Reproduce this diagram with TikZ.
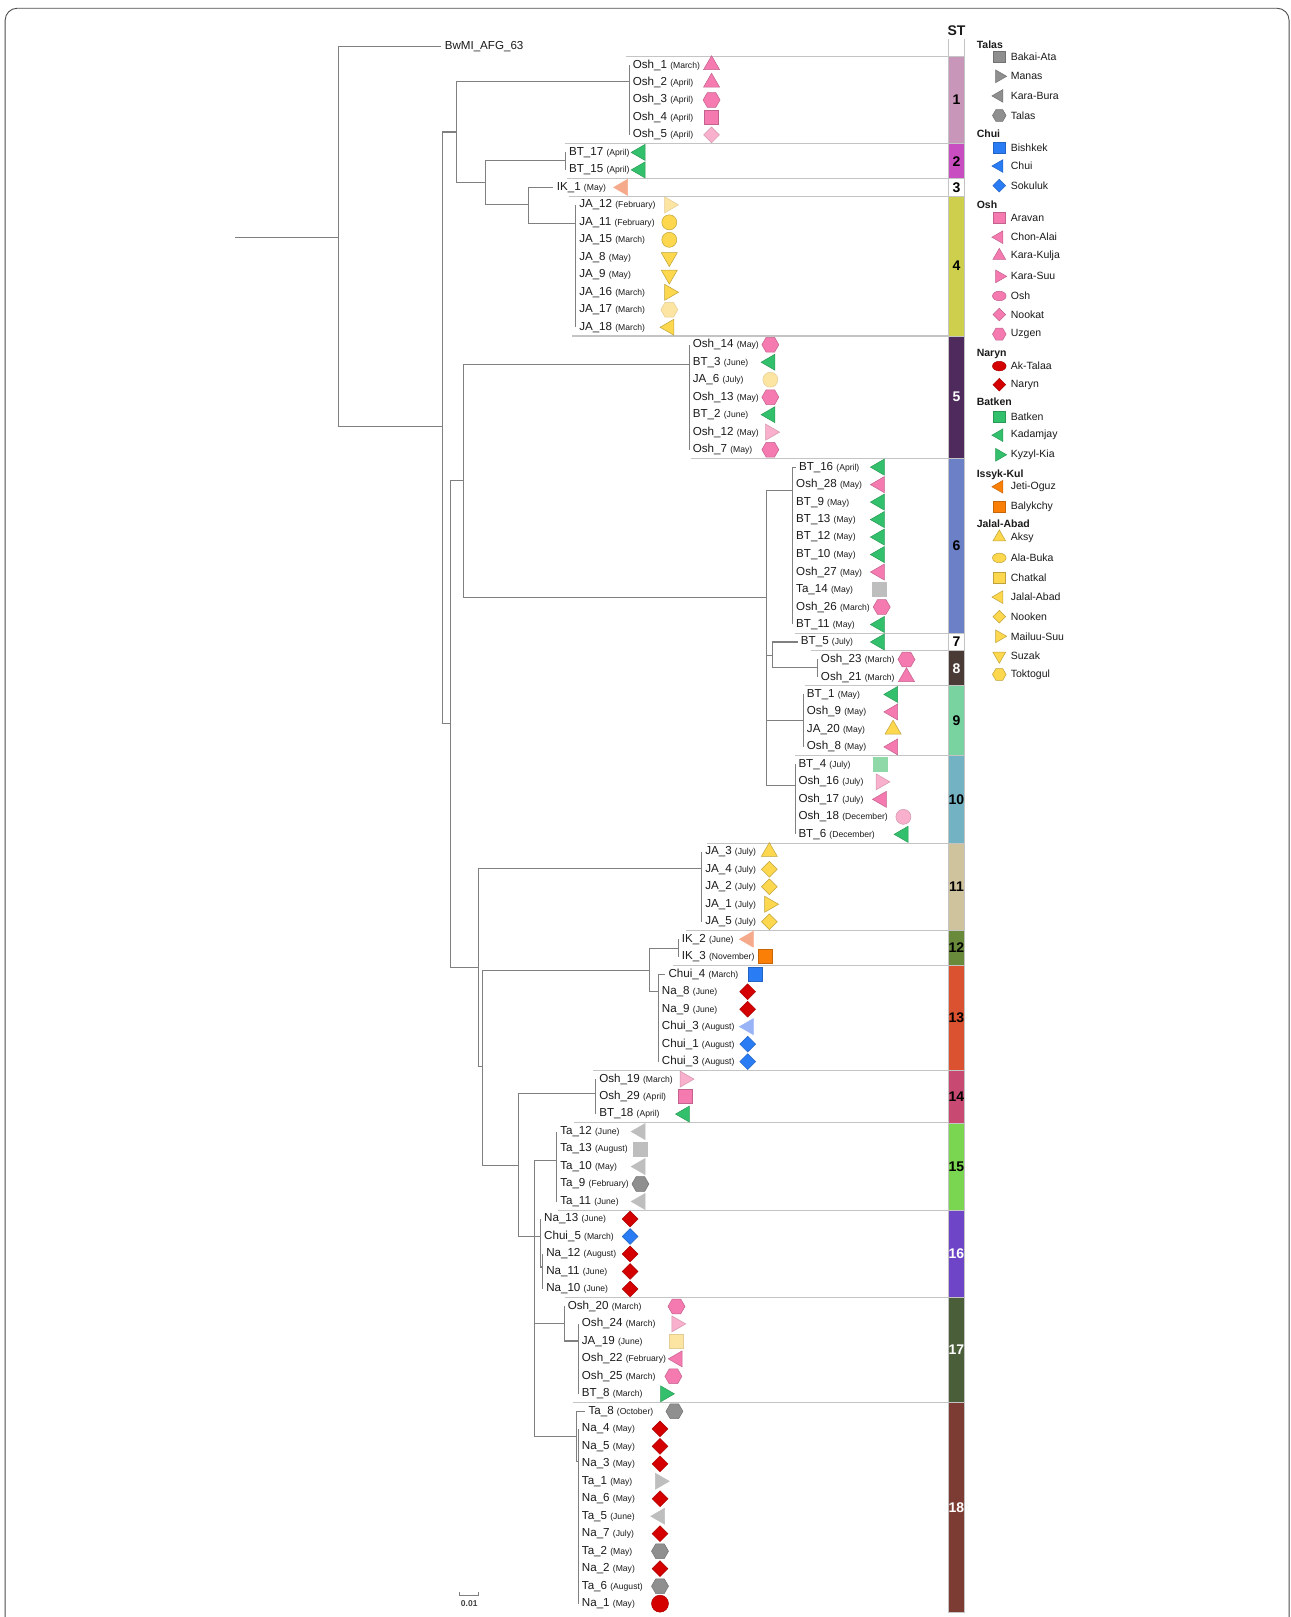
\documentclass[tikz,border=0pt]{standalone}
\usepackage{fontspec}
\setmainfont{Liberation Sans}
\usetikzlibrary{shapes.geometric}

\definecolor{brc}{HTML}{808080}
\definecolor{sepc}{HTML}{C4C4C4}
\definecolor{txtc}{HTML}{1A1A1A}
\definecolor{oshpk}{HTML}{F47AB0}
\definecolor{oshlpk}{HTML}{F8B0CC}
\definecolor{btgr}{HTML}{33C06C}
\definecolor{btlgr}{HTML}{8FD9A8}
\definecolor{tagy}{HTML}{8F8F8F}
\definecolor{talgy}{HTML}{BEBEBE}
\definecolor{chbl}{HTML}{2A7CF4}
\definecolor{chlbl}{HTML}{98B3F6}
\definecolor{nard}{HTML}{D40000}
\definecolor{ikor}{HTML}{F97F07}
\definecolor{iksal}{HTML}{F6AA8C}
\definecolor{jaye}{HTML}{FDD84E}
\definecolor{jalye}{HTML}{FCE4A2}
% sequence type bar
\definecolor{stA}{HTML}{C896B8}
\definecolor{stB}{HTML}{C74DC0}
\definecolor{stD}{HTML}{CFCF4E}
\definecolor{stE}{HTML}{4F2A5D}
\definecolor{stF}{HTML}{6C80C7}
\definecolor{stH}{HTML}{4B3B37}
\definecolor{stI}{HTML}{79D3A0}
\definecolor{stJ}{HTML}{72B2C2}
\definecolor{stK}{HTML}{CFC39E}
\definecolor{stL}{HTML}{6A8A3B}
\definecolor{stM}{HTML}{DA5230}
\definecolor{stN}{HTML}{C84A72}
\definecolor{stO}{HTML}{7AD550}
\definecolor{stP}{HTML}{6E45C6}
\definecolor{stQ}{HTML}{4B5E3A}
\definecolor{stR}{HTML}{7D3C33}

\newcommand{\rowy}[1]{46.05+16.955*(#1)}
\newcommand{\mon}[1]{{\fontsize{8.6}{9}\selectfont(#1)}}
% isolate: id, row, tip x, name, month, shape, colour, symbol x
\newcommand{\leaf}[8]{%
  \coordinate (#1) at (#3,{\rowy{#2}});
  \node[lab] (#1l) at (#1) {#4 \mon{#5}};
  \node[#6,#7] (#1s) at (#8,{\rowy{#2}}) {};
}
% ST bar segment: name, first row, last row, fill, text colour, number
\newcommand{\stseg}[6]{%
  \path[fill=#4, draw=sepc, line width=0.6pt] (920,{\rowy{#2-0.5}}) rectangle (935,{\rowy{#3+0.5}});
  \node[stnum, text=#5] (#1) at (927.5,{\rowy{(#2+#3)/2}}) {#6};
}

\begin{document}
\begin{tikzpicture}[
    x=1.031pt, y=-1.031pt,
    br/.style={draw=brc, line width=1.1pt},
    sep/.style={draw=sepc, line width=1.1pt},
    lab/.style={anchor=west, inner sep=3.2pt, text=txtc, font=\fontsize{11.6}{13}\selectfont},
    stnum/.style={inner sep=0pt, font=\bfseries\fontsize{14}{14}\selectfont},
    leghd/.style={anchor=west, inner sep=0pt, text=txtc, font=\bfseries\fontsize{10.5}{11}\selectfont},
    legtx/.style={anchor=west, inner sep=0pt, text=txtc, font=\fontsize{10.5}{11}\selectfont},
    sym/.style={inner sep=0pt, line width=0.5pt},
    symU/.style={sym, regular polygon, regular polygon sides=3, minimum size=18.5pt},
    symL/.style={symU, shape border rotate=90},
    symR/.style={symU, shape border rotate=-90},
    symD/.style={symU, shape border rotate=180},
    symSq/.style={sym, rectangle, minimum size=14pt},
    symHex/.style={sym, regular polygon, regular polygon sides=6, minimum size=17pt},
    symDia/.style={sym, diamond, minimum size=16pt},
    symCirc/.style={sym, circle, minimum size=15pt},
    symEll/.style={sym, ellipse, minimum width=17pt, minimum height=12pt},
    cPk/.style={fill=oshpk, draw=oshpk!80!black},
    cLPk/.style={fill=oshlpk, draw=oshlpk!85!black},
    cGr/.style={fill=btgr, draw=btgr!80!black},
    cLGr/.style={fill=btlgr, draw=btlgr},
    cGy/.style={fill=tagy, draw=tagy!80!black},
    cLGy/.style={fill=talgy, draw=talgy},
    cBl/.style={fill=chbl, draw=chbl!80!black},
    cLBl/.style={fill=chlbl, draw=chlbl},
    cRd/.style={fill=nard, draw=nard!80!black},
    cOr/.style={fill=ikor, draw=ikor!80!black},
    cSal/.style={fill=iksal, draw=iksal},
    cYe/.style={fill=jaye, draw=jaye!75!black},
    cLYe/.style={fill=jalye, draw=jalye!90!black}
  ]
  \useasboundingbox (0,0) rectangle (1251,1568);
  \draw[draw=black!70, line width=0.9pt, rounded corners=12pt] (5,8) rectangle (1250,1610);

  % separators between sequence types
  \foreach \r/\x in {0/607, 5/548, 7/550, 8/552, 16/555, 23/670, 33/771, 34/786, 36/781,
                     40/771, 45/686, 50/665, 52/653, 58/575, 61/557, 66/541, 71/548, 77/556}
    \draw[sep] (\x,{\rowy{\r+0.5}}) -- (920,{\rowy{\r+0.5}});

  % ST column
  \node[stnum, text=txtc] (sthd) at (927.5,30) {ST};
  \draw[sepc, line width=0.8pt] (920,38) -- (920,{\rowy{0.5}}) (935,38) -- (935,{\rowy{0.5}});
  \stseg{bar1}{1}{5}{stA}{black}{1}
  \stseg{bar2}{6}{7}{stB}{black}{2}
  \stseg{bar3}{8}{8}{white}{black}{3}
  \stseg{bar4}{9}{16}{stD}{black}{4}
  \stseg{bar5}{17}{23}{stE}{white}{5}
  \stseg{bar6}{24}{33}{stF}{black}{6}
  \stseg{bar7}{34}{34}{white}{black}{7}
  \stseg{bar8}{35}{36}{stH}{white}{8}
  \stseg{bar9}{37}{40}{stI}{black}{9}
  \stseg{bar10}{41}{45}{stJ}{black}{10}
  \stseg{bar11}{46}{50}{stK}{black}{11}
  \stseg{bar12}{51}{52}{stL}{black}{12}
  \stseg{bar13}{53}{58}{stM}{black}{13}
  \stseg{bar14}{59}{61}{stN}{black}{14}
  \stseg{bar15}{62}{66}{stO}{black}{15}
  \stseg{bar16}{67}{71}{stP}{white}{16}
  \stseg{bar17}{72}{77}{stQ}{white}{17}
  \stseg{bar18}{78}{89}{stR}{white}{18}

  % isolates
  \leaf{osh1}{1}{610.4}{Osh\_1}{March}{symU}{cPk}{690}
  \leaf{osh2}{2}{610.4}{Osh\_2}{April}{symU}{cPk}{690}
  \leaf{osh3}{3}{610.4}{Osh\_3}{April}{symHex}{cPk}{690}
  \leaf{osh4}{4}{610.4}{Osh\_4}{April}{symSq}{cPk}{690}
  \leaf{osh5}{5}{610.4}{Osh\_5}{April}{symDia}{cLPk}{690}
  \leaf{bt17}{6}{548.6}{BT\_17}{April}{symL}{cGr}{621}
  \leaf{bt15}{7}{548.6}{BT\_15}{April}{symL}{cGr}{621}
  \leaf{ik1}{8}{536.7}{IK\_1}{May}{symL}{cSal}{604}
  \leaf{ja12}{9}{558.4}{JA\_12}{February}{symR}{cLYe}{649}
  \leaf{ja11}{10}{558.4}{JA\_11}{February}{symCirc}{cYe}{649}
  \leaf{ja15}{11}{558.4}{JA\_15}{March}{symCirc}{cYe}{649}
  \leaf{ja8}{12}{558.4}{JA\_8}{May}{symD}{cYe}{649}
  \leaf{ja9}{13}{558.4}{JA\_9}{May}{symD}{cYe}{649}
  \leaf{ja16}{14}{558.4}{JA\_16}{March}{symR}{cYe}{649}
  \leaf{ja17}{15}{558.4}{JA\_17}{March}{symHex}{cLYe}{649}
  \leaf{ja18}{16}{558.4}{JA\_18}{March}{symL}{cYe}{649}
  \leaf{osh14}{17}{668.6}{Osh\_14}{May}{symHex}{cPk}{747}
  \leaf{bt3}{18}{668.6}{BT\_3}{June}{symL}{cGr}{747}
  \leaf{ja6}{19}{668.6}{JA\_6}{July}{symCirc}{cLYe}{747}
  \leaf{osh13}{20}{668.6}{Osh\_13}{May}{symHex}{cPk}{747}
  \leaf{bt2}{21}{668.6}{BT\_2}{June}{symL}{cGr}{747}
  \leaf{osh12}{22}{668.6}{Osh\_12}{May}{symR}{cLPk}{747}
  \leaf{osh7}{23}{668.6}{Osh\_7}{May}{symHex}{cPk}{747}
  \leaf{bt16}{24}{771.5}{BT\_16}{April}{symL}{cGr}{853}
  \leaf{osh28}{25}{768.8}{Osh\_28}{May}{symL}{cPk}{853}
  \leaf{bt9}{26}{768.8}{BT\_9}{May}{symL}{cGr}{853}
  \leaf{bt13}{27}{768.8}{BT\_13}{May}{symL}{cGr}{853}
  \leaf{bt12}{28}{768.8}{BT\_12}{May}{symL}{cGr}{853}
  \leaf{bt10}{29}{768.8}{BT\_10}{May}{symL}{cGr}{853}
  \leaf{osh27}{30}{768.8}{Osh\_27}{May}{symL}{cPk}{853}
  \leaf{ta14}{31}{768.8}{Ta\_14}{May}{symSq}{cLGy}{853}
  \leaf{osh26}{32}{768.8}{Osh\_26}{March}{symHex}{cPk}{855}
  \leaf{bt11}{33}{768.8}{BT\_11}{May}{symL}{cGr}{853}
  \leaf{bt5}{34}{773.4}{BT\_5}{July}{symL}{cGr}{853}
  \leaf{osh23}{35}{792.8}{Osh\_23}{March}{symHex}{cPk}{879}
  \leaf{osh21}{36}{792.8}{Osh\_21}{March}{symU}{cPk}{879}
  \leaf{bt1}{37}{779.2}{BT\_1}{May}{symL}{cGr}{866}
  \leaf{osh9}{38}{779.2}{Osh\_9}{May}{symL}{cPk}{866}
  \leaf{ja20}{39}{779.2}{JA\_20}{May}{symU}{cYe}{866}
  \leaf{osh8}{40}{779.2}{Osh\_8}{May}{symL}{cPk}{866}
  \leaf{bt4}{41}{771}{BT\_4}{July}{symSq}{cLGr}{854}
  \leaf{osh16}{42}{771}{Osh\_16}{July}{symR}{cLPk}{854}
  \leaf{osh17}{43}{771}{Osh\_17}{July}{symL}{cPk}{855}
  \leaf{osh18}{44}{771}{Osh\_18}{December}{symCirc}{cLPk}{876}
  \leaf{bt6}{45}{771}{BT\_6}{December}{symL}{cGr}{876}
  \leaf{ja3}{46}{680.6}{JA\_3}{July}{symU}{cYe}{746}
  \leaf{ja4}{47}{680.6}{JA\_4}{July}{symDia}{cYe}{746}
  \leaf{ja2}{48}{680.6}{JA\_2}{July}{symDia}{cYe}{746}
  \leaf{ja1}{49}{680.6}{JA\_1}{July}{symR}{cYe}{746}
  \leaf{ja5}{50}{680.6}{JA\_5}{July}{symDia}{cYe}{746}
  \leaf{ik2}{51}{658}{IK\_2}{June}{symL}{cSal}{726}
  \leaf{ik3}{52}{658}{IK\_3}{November}{symSq}{cOr}{742}
  \leaf{chui4}{53}{645}{Chui\_4}{March}{symSq}{cBl}{732}
  \leaf{na8}{54}{638.6}{Na\_8}{June}{symDia}{cRd}{725}
  \leaf{na9}{55}{638.6}{Na\_9}{June}{symDia}{cRd}{725}
  \leaf{chui3a}{56}{638.6}{Chui\_3}{August}{symL}{cLBl}{726}
  \leaf{chui1}{57}{638.6}{Chui\_1}{August}{symDia}{cBl}{725}
  \leaf{chui3b}{58}{638.6}{Chui\_3}{August}{symDia}{cBl}{725}
  \leaf{osh19}{59}{577.8}{Osh\_19}{March}{symR}{cLPk}{664}
  \leaf{osh29}{60}{577.8}{Osh\_29}{April}{symSq}{cPk}{664}
  \leaf{bt18}{61}{577.8}{BT\_18}{April}{symL}{cGr}{664}
  \leaf{ta12}{62}{540}{Ta\_12}{June}{symL}{cLGy}{621}
  \leaf{ta13}{63}{540}{Ta\_13}{August}{symSq}{cLGy}{621}
  \leaf{ta10}{64}{540}{Ta\_10}{May}{symL}{cLGy}{621}
  \leaf{ta9}{65}{540}{Ta\_9}{February}{symHex}{cGy}{621}
  \leaf{ta11}{66}{540}{Ta\_11}{June}{symL}{cLGy}{621}
  \leaf{na13}{67}{524.4}{Na\_13}{June}{symDia}{cRd}{611}
  \leaf{chui5}{68}{524.4}{Chui\_5}{March}{symDia}{cBl}{611}
  \leaf{na12}{69}{526.4}{Na\_12}{August}{symDia}{cRd}{611}
  \leaf{na11}{70}{526.4}{Na\_11}{June}{symDia}{cRd}{611}
  \leaf{na10}{71}{526.4}{Na\_10}{June}{symDia}{cRd}{611}
  \leaf{osh20}{72}{547.4}{Osh\_20}{March}{symHex}{cPk}{656}
  \leaf{osh24}{73}{561}{Osh\_24}{March}{symR}{cLPk}{656}
  \leaf{ja19}{74}{561}{JA\_19}{June}{symSq}{cLYe}{656}
  \leaf{osh22}{75}{561}{Osh\_22}{February}{symL}{cPk}{657}
  \leaf{osh25}{76}{561}{Osh\_25}{March}{symHex}{cPk}{653}
  \leaf{bt8}{77}{561}{BT\_8}{March}{symR}{cGr}{645}
  \leaf{ta8}{78}{567.4}{Ta\_8}{October}{symHex}{cGy}{654}
  \leaf{na4}{79}{561}{Na\_4}{May}{symDia}{cRd}{640}
  \leaf{na5}{80}{561}{Na\_5}{May}{symDia}{cRd}{640}
  \leaf{na3}{81}{561}{Na\_3}{May}{symDia}{cRd}{640}
  \leaf{ta1}{82}{561}{Ta\_1}{May}{symR}{cLGy}{640}
  \leaf{na6}{83}{561}{Na\_6}{May}{symDia}{cRd}{640}
  \leaf{ta5}{84}{561}{Ta\_5}{June}{symL}{cLGy}{640}
  \leaf{na7}{85}{561}{Na\_7}{July}{symDia}{cRd}{640}
  \leaf{ta2}{86}{561}{Ta\_2}{May}{symHex}{cGy}{640}
  \leaf{na2}{87}{561}{Na\_2}{May}{symDia}{cRd}{640}
  \leaf{ta6}{88}{561}{Ta\_6}{August}{symHex}{cGy}{640}
  \leaf{na1}{89}{561}{Na\_1}{May}{symCirc}{cRd,minimum size=17pt}{640}

  % internal nodes
  \coordinate (root) at (228,230);
  \coordinate (c0) at (328,230);
  \coordinate (bwtip) at (428,45);
  \node[lab] (bwmi) at (bwtip) {BwMI\_AFG\_63};
  \coordinate (c1) at (429,414);
  \coordinate (c2) at (443,128);
  \coordinate (st1) at (610.4,78.6);
  \coordinate (c3) at (471,177);
  \coordinate (st2) at (548.6,156);
  \coordinate (c4) at (512.7,198.5);
  \coordinate (st4) at (558.4,216.6);
  \coordinate (c5) at (436.5,702);
  \coordinate (c6) at (449.4,466);
  \coordinate (st5) at (668.6,353.4);
  \coordinate (c7) at (743.6,579.7);
  \coordinate (st6) at (768.8,476);
  \coordinate (c8) at (748.8,635.3);
  \coordinate (st8) at (792.8,647.6);
  \coordinate (st9) at (779.2,698.4);
  \coordinate (st10) at (771,762);
  \coordinate (c9) at (464,938.6);
  \coordinate (st11) at (680.6,842.2);
  \coordinate (c10) at (468,1034.6);
  \coordinate (c11) at (629.8,940.8);
  \coordinate (st12) at (658,919.8);
  \coordinate (st13) at (638.6,961.2);
  \coordinate (c12) at (502.8,1129.8);
  \coordinate (st14) at (577.8,1060);
  \coordinate (c13) at (518.3,1199.4);
  \coordinate (st15) at (540,1125.3);
  \coordinate (st16) at (524.4,1199.4);
  \coordinate (st16b) at (526.4,1228.6);
  \coordinate (st17) at (547.4,1283.8);
  \coordinate (st17b) at (561,1300.3);
  \coordinate (st18) at (559.3,1392.6);
  \coordinate (st18b) at (561,1417.5);

  % branches
  \draw[br] (root) -- (c0);
  \draw[br] (c0) |- (bwtip);
  \draw[br] (c0) |- (c1);
  \draw[br] (c1) |- (c2);
  \draw[br] (c1) |- (c5);
  \draw[br] (c2) |- (st1);
  \draw[br] (c2) |- (c3);
  \draw[br] (c3) |- (st2);
  \draw[br] (c3) |- (c4);
  \draw[br] (c4) |- (ik1);
  \draw[br] (c4) |- (st4);
  \draw[br] (c5) |- (c6);
  \draw[br] (c5) |- (c9);
  \draw[br] (c6) |- (st5);
  \draw[br] (c6) |- (c7);
  \foreach \t in {st6,c8,st9,st10} \draw[br] (c7) |- (\t);
  \draw[br] (c8) |- (bt5);
  \draw[br] (c8) |- (st8);
  \draw[br] (c9) |- (st11);
  \draw[br] (c9) |- (c10);
  \draw[br] (c10) |- (c11);
  \draw[br] (c10) |- (c12);
  \draw[br] (c11) |- (st12);
  \draw[br] (c11) |- (st13);
  \draw[br] (c12) |- (st14);
  \draw[br] (c12) |- (c13);
  \foreach \t in {st15,st16,st17,st18} \draw[br] (c13) |- (\t);
  \draw[br] (st16) |- (st16b);
  \draw[br] (st17) |- (st17b);
  \draw[br] (st18) |- (st18b);
  \foreach \t in {osh1,osh2,osh3,osh4,osh5} \draw[br] (st1) |- (\t);
  \foreach \t in {bt17,bt15} \draw[br] (st2) |- (\t);
  \foreach \t in {ja12,ja11,ja15,ja8,ja9,ja16,ja17,ja18} \draw[br] (st4) |- (\t);
  \foreach \t in {osh14,bt3,ja6,osh13,bt2,osh12,osh7} \draw[br] (st5) |- (\t);
  \foreach \t in {bt16,osh28,bt9,bt13,bt12,bt10,osh27,ta14,osh26,bt11} \draw[br] (st6) |- (\t);
  \foreach \t in {osh23,osh21} \draw[br] (st8) |- (\t);
  \foreach \t in {bt1,osh9,ja20,osh8} \draw[br] (st9) |- (\t);
  \foreach \t in {bt4,osh16,osh17,osh18,bt6} \draw[br] (st10) |- (\t);
  \foreach \t in {ja3,ja4,ja2,ja1,ja5} \draw[br] (st11) |- (\t);
  \foreach \t in {ik2,ik3} \draw[br] (st12) |- (\t);
  \foreach \t in {chui4,na8,na9,chui3a,chui1,chui3b} \draw[br] (st13) |- (\t);
  \foreach \t in {osh19,osh29,bt18} \draw[br] (st14) |- (\t);
  \foreach \t in {ta12,ta13,ta10,ta9,ta11} \draw[br] (st15) |- (\t);
  \foreach \t in {na13,chui5} \draw[br] (st16) |- (\t);
  \foreach \t in {na12,na11,na10} \draw[br] (st16b) |- (\t);
  \draw[br] (st17) |- (osh20);
  \foreach \t in {osh24,ja19,osh22,osh25,bt8} \draw[br] (st17b) |- (\t);
  \draw[br] (st18) |- (ta8);
  \foreach \t in {na4,na5,na3,ta1,na6,ta5,na7,ta2,na2,ta6,na1} \draw[br] (st18b) |- (\t);

  % scale bar
  \coordinate (sbl) at (445,1547);
  \coordinate (sbr) at (464,1547);
  \draw[br, line width=0.8pt] (sbl) -- (sbr);
  \draw[br, line width=0.8pt] (sbl) -- ++(0,-3) (sbr) -- ++(0,-3);
  \node[inner sep=0pt, text=black!75, font=\bfseries\fontsize{8.5}{9}\selectfont] (sblab) at (455,1555) {0.01};

  % legend
  \foreach \y/\t in {43/Talas, 130/Chui, 199/Osh, 343/Naryn, 390/Batken, 460/Issyk-Kul, 508/Jalal-Abad}
    \node[leghd] (hd\y) at (947,\y) {\t};
  \foreach \y/\s/\c/\t in {55/symSq/cGy/Bakai-Ata, 74/symR/cGy/Manas, 93/symL/cGy/Kara-Bura,
      112/symHex/cGy/Talas, 143/symSq/cBl/Bishkek, 161/symL/cBl/Chui, 180/symDia/cBl/Sokuluk,
      211/symSq/cPk/Aravan, 230/symL/cPk/Chon-Alai, 248/symU/cPk/Kara-Kulja, 268/symR/cPk/Kara-Suu,
      287/symEll/cPk/Osh, 305/symDia/cPk/Nookat, 324/symHex/cPk/Uzgen, 355/symEll/cRd/Ak-Talaa,
      373/symDia/cRd/Naryn, 404/symSq/cGr/Batken, 422/symL/cGr/Kadamjay, 441/symR/cGr/Kyzyl-Kia,
      472/symL/cOr/Jeti-Oguz, 491/symSq/cOr/Balykchy, 521/symU/cYe/Aksy, 541/symEll/cYe/Ala-Buka,
      560/symSq/cYe/Chatkal, 579/symL/cYe/Jalal-Abad, 598/symDia/cYe/Nooken, 617/symR/cYe/Mailuu-Suu,
      636/symD/cYe/Suzak, 654/symHex/cYe/Toktogul}
  {
    \node[\s,\c,scale=0.8] (ls\y) at (969,\y) {};
    \node[legtx] (lt\y) at (980,\y) {\t};
  }
\end{tikzpicture}
\end{document}
